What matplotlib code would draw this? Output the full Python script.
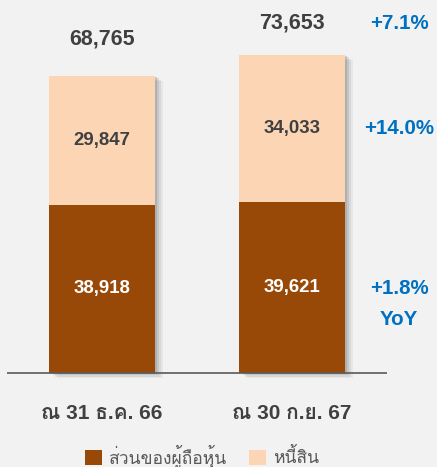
import matplotlib
matplotlib.use("Agg")
from matplotlib import pyplot as plt
from matplotlib import patheffects as pe
from matplotlib import font_manager
from matplotlib.ft2font import FT2Font

categories = ["ณ 31 ธ.ค. 66", "ณ 30 ก.ย. 67"]
equity = [38918, 39621]
liabilities = [29847, 34033]
totals = [68765, 73653]
series_names = ["ส่วนของผู้ถือหุ้น", "หนี้สิน"]
growth = ["+1.8%", "+14.0%", "+7.1%"]

BROWN = "#984807"
PEACH = "#FCD5B5"
BG = "#F2F2F2"
DARK = "#404040"
BLUE = "#0070C0"


def find_thai_font():
    # pick any installed font that actually has Thai glyphs
    found = []
    for f in font_manager.fontManager.ttflist:
        try:
            cmap = FT2Font(f.fname).get_charmap()
        except Exception:
            continue
        if 0x0E13 in cmap and 0x0E49 in cmap:
            found.append(f.name)
    return found


thai = find_thai_font()
latin = "Liberation Sans"
families = [latin] + thai[:2] + ["DejaVu Sans"]

fig = plt.figure(figsize=(4.37, 4.67), dpi=100, facecolor=BG)
ax = fig.add_axes([0, 0, 1, 1])
ax.set_facecolor(BG)
ax.set_xlim(-0.537, 1.763)
ax.set_ylim(-21760, 86340)
ax.axis("off")

x = [0, 1]
width = 0.558

# soft drop shadow behind each full column
shadow = [pe.SimplePatchShadow(offset=(o, -o * 0.6), shadow_rgbFace="#707070", alpha=a)
          for o, a in [(6, 0.08), (4.5, 0.12), (3, 0.18), (1.5, 0.25)]]
ax.bar(x, totals, width, color="none", zorder=1, path_effects=shadow)

ax.bar(x, equity, width, color=BROWN, label=series_names[0], zorder=2)
ax.bar(x, liabilities, width, bottom=equity, color=PEACH, label=series_names[1], zorder=2)

ax.hlines(0, -0.5, 1.5, color="#595959", lw=1.2, zorder=3)

total_gap = [8600, 7300]
for i in x:
    ax.text(i, equity[i] / 2, f"{equity[i]:,}", ha="center", va="center",
            color="white", fontsize=13.4, fontweight="bold", family=latin, zorder=4)
    ax.text(i, equity[i] + liabilities[i] / 2, f"{liabilities[i]:,}", ha="center",
            va="center", color=DARK, fontsize=13.4, fontweight="bold", family=latin, zorder=4)
    ax.text(i, totals[i] + total_gap[i], f"{totals[i]:,}", ha="center", va="center",
            color=DARK, fontsize=15.5, fontweight="bold", family=latin, zorder=4)
    ax.text(i, -9300, categories[i], ha="center", va="center", color=DARK,
            fontsize=15, fontweight="bold", family=families, zorder=4)

gx = 1.563
gfs = 14.8
ax.text(gx, equity[1] / 2 - 300, growth[0], ha="center", va="center", color=BLUE,
        fontsize=gfs, fontweight="bold", family=latin)
ax.text(gx, equity[1] / 2 - 7400, "YoY", ha="center", va="center", color=BLUE,
        fontsize=gfs, fontweight="bold", family=latin)
ax.text(gx, equity[1] + liabilities[1] / 2, growth[1], ha="center", va="center",
        color=BLUE, fontsize=gfs, fontweight="bold", family=latin)
ax.text(gx, totals[1] + 7300, growth[2], ha="center", va="center", color=BLUE,
        fontsize=gfs, fontweight="bold", family=latin)

fig.legend(loc="center", bbox_to_anchor=(202 / 437, 1 - 456 / 467), ncol=2,
           frameon=False, prop={"family": families, "size": 12.6},
           labelcolor="#595959", handlelength=0.95, handleheight=0.95,
           handletextpad=0.4, columnspacing=1.3)

fig.savefig("out.png", dpi=100, facecolor=BG)
